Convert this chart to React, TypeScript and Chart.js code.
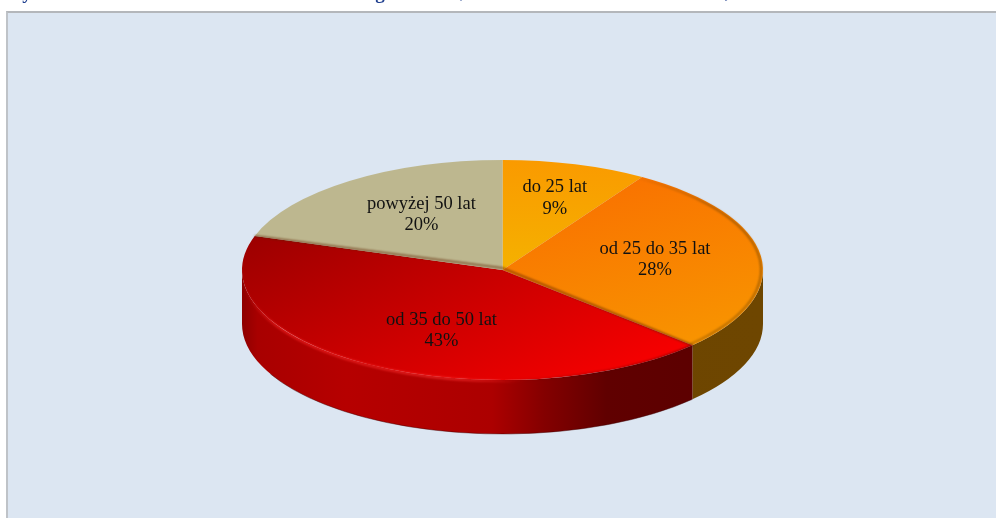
import React, { useEffect, useRef } from "react";
import { Chart, registerables } from "chart.js";

Chart.register(...registerables);

const categories = ["do 25 lat", "od 25 do 35 lat", "od 35 do 50 lat", "powyżej 50 lat"];
const shares = [9, 28, 43, 20];
const shareLabels = ["9%", "28%", "43%", "20%"];
// the only parts of the page's cut-off heading that can be seen, with their x positions
const headingGlyphs = ["y", "g", "(", ")"];
const headingGlyphX = [27, 380, 459, 728];

const CX = 502.5, CY = 270, RX = 260.5, RY = 110, DEPTH = 54;
// label placement as a fraction of the radius, along the slice's middle direction
const labelFactors = [[0.72, 0.682], [0.59, 0.76], [0.46, 0.64], [0.53, 0.624]];
const faceGradients: any[] = [
  [[503, 160, 510, 265], ["#FA9A00", "#F5B000"]],
  [[530, 190, 750, 330], ["#F97000", "#F89400"]],
  [[255, 240, 640, 375], ["#9E0000", "#F80000"]],
  [[260, 160, 503, 270], ["#BDB78F", "#BDB78F"]],
];

const extrude = {
  id: "extrude",
  beforeDatasetsDraw(chart: any) {
    const ctx = chart.ctx;
    const arcs = chart.getDatasetMeta(0).data;
    const a0 = arcs[0];
    ctx.save();
    ctx.fillStyle = "#1F3F8F";
    ctx.font = 'bold 19px "Liberation Serif"';
    ctx.textAlign = "center";
    ctx.textBaseline = "alphabetic";
    headingGlyphs.forEach((t, i) => {
      ctx.fillText(t, headingGlyphX[i], t === "(" || t === ")" ? -3 : -1);
    });
    // side wall, front half of the ellipse
    arcs.forEach((arc: any, i: number) => {
      const s = Math.max(arc.startAngle, 0);
      const e = Math.min(arc.endAngle, Math.PI);
      if (e <= s) return;
      const g = ctx.createLinearGradient(CX - RX, 0, CX + RX, 0);
      if (i === 1) {
        g.addColorStop(0, "#6B4300");
        g.addColorStop(1, "#6E4600");
      } else {
        g.addColorStop(0, "#8E0000");
        g.addColorStop(0.03, "#A80000");
        g.addColorStop(0.2, "#B60000");
        g.addColorStop(0.48, "#AC0000");
        g.addColorStop(0.58, "#840000");
        g.addColorStop(0.7, "#600000");
        g.addColorStop(1, "#5A0000");
      }
      ctx.beginPath();
      ctx.ellipse(CX, CY, RX, RY, 0, s, e);
      ctx.ellipse(CX, CY + DEPTH, RX, RY, 0, e, s, true);
      ctx.closePath();
      ctx.fillStyle = g;
      ctx.fill();
    });
    ctx.restore();
    // squash the library's circular pie into the ellipse of the top face
    ctx.save();
    const R = a0.outerRadius;
    ctx.translate(CX, CY);
    ctx.scale(RX / R, RY / R);
    ctx.translate(-a0.x, -a0.y);
  },
  afterDatasetsDraw(chart: any) {
    const ctx = chart.ctx;
    ctx.restore();
    const arcs = chart.getDatasetMeta(0).data;
    const r = arcs[2];
    ctx.save();
    ctx.filter = "blur(0.8px)";
    // soft highlight along the front edge of the top face
    const rim = ctx.createLinearGradient(CX - RX, 0, CX + RX, 0);
    rim.addColorStop(0, "rgba(255,40,40,0)");
    rim.addColorStop(0.07, "rgba(255,40,40,0.6)");
    rim.addColorStop(0.42, "rgba(255,50,50,0.65)");
    rim.addColorStop(0.55, "rgba(255,30,30,0)");
    ctx.strokeStyle = rim;
    ctx.lineWidth = 2.4;
    ctx.beginPath();
    ctx.ellipse(CX, CY + 1, RX, RY, 0, r.startAngle, Math.PI);
    ctx.stroke();
    // soft shade on the right part of the front edge
    const shade = ctx.createLinearGradient(CX, 0, CX + 190, 0);
    shade.addColorStop(0, "rgba(90,0,0,0)");
    shade.addColorStop(1, "rgba(90,0,0,0.7)");
    ctx.strokeStyle = shade;
    ctx.lineWidth = 2;
    ctx.beginPath();
    ctx.ellipse(CX, CY, RX, RY, 0, r.startAngle, Math.PI / 2);
    ctx.stroke();
    // darker edge of the orange slice, fading out towards the top
    const edge = ctx.createLinearGradient(CX + 130, 0, CX + RX, 0);
    edge.addColorStop(0, "rgba(100,60,0,0)");
    edge.addColorStop(0.6, "rgba(100,60,0,0.6)");
    edge.addColorStop(1, "rgba(100,60,0,0.7)");
    ctx.strokeStyle = edge;
    ctx.lineWidth = 1.5;
    ctx.beginPath();
    ctx.ellipse(CX, CY, RX - 2, RY - 2, 0, arcs[1].startAngle, arcs[1].endAngle);
    ctx.stroke();
    // seams around the red slice
    ctx.strokeStyle = "rgba(95,35,0,0.75)";
    ctx.lineWidth = 1.5;
    ctx.beginPath();
    ctx.moveTo(CX + RX * Math.cos(r.startAngle), CY + RY * Math.sin(r.startAngle));
    ctx.lineTo(CX, CY - 2);
    ctx.lineTo(CX + RX * Math.cos(r.endAngle), CY + RY * Math.sin(r.endAngle));
    ctx.stroke();
    ctx.filter = "none";
    // thin darker lower edge of the wall
    ctx.strokeStyle = "rgba(60,0,0,0.45)";
    ctx.lineWidth = 1;
    ctx.beginPath();
    ctx.ellipse(CX, CY + DEPTH, RX, RY, 0, r.startAngle, Math.PI * 0.85);
    ctx.stroke();
    // labels
    ctx.fillStyle = "#111111";
    ctx.font = '18.5px "Liberation Serif"';
    ctx.textAlign = "center";
    ctx.textBaseline = "middle";
    arcs.forEach((arc: any, i: number) => {
      const mid = (arc.startAngle + arc.endAngle) / 2;
      const x = CX + RX * labelFactors[i][0] * Math.cos(mid);
      const y = CY + RY * labelFactors[i][1] * Math.sin(mid);
      ctx.fillText(categories[i], x, y - 10.5);
      ctx.fillText(shareLabels[i], x, y + 11);
    });
    ctx.restore();
  },
};

export default function App() {
  const ref = useRef<HTMLCanvasElement>(null);
  useEffect(() => {
    const canvas = ref.current!;
    const chart = new Chart(canvas, {
      type: "pie",
      data: {
        labels: categories,
        datasets: [
          {
            data: shares,
            borderWidth: 0,
            clip: false,
            backgroundColor: (c: any) => {
              const area = c.chart.chartArea;
              const i = c.dataIndex ?? 0;
              const [p, cols] = faceGradients[i];
              if (!area) return cols[0];
              const R = Math.min(area.right - area.left, area.bottom - area.top) / 2;
              const ax = (area.left + area.right) / 2, ay = (area.top + area.bottom) / 2;
              const mx = (X: number) => ax + ((X - CX) * R) / RX;
              const my = (Y: number) => ay + ((Y - CY) * R) / RY;
              const g = c.chart.ctx.createLinearGradient(mx(p[0]), my(p[1]), mx(p[2]), my(p[3]));
              g.addColorStop(0, cols[0]);
              g.addColorStop(1, cols[1]);
              return g;
            },
          } as any,
        ],
      },
      options: {
        animation: false,
        responsive: false,
        devicePixelRatio: 1,
        rotation: 0,
        layout: { padding: 0 },
        events: [],
        plugins: { legend: { display: false }, tooltip: { enabled: false }, title: { display: false } },
      } as any,
      plugins: [extrude],
    });
    return () => chart.destroy();
  }, []);
  return (
    <div style={{ position: "fixed", left: 0, top: 0, width: 997, height: 518, background: "#fff", overflow: "hidden" }}>
      <div
        style={{
          position: "absolute", left: 6, top: 11, width: 990, height: 520,
          background: "#DCE6F2", borderLeft: "2px solid #BFC3C8", borderTop: "2px solid #B4B7BB", boxSizing: "border-box",
        }}
      />
      <canvas ref={ref} width={997} height={518} style={{ position: "absolute", left: 0, top: 0, width: 997, height: 518, display: "block" }} />
    </div>
  );
}
